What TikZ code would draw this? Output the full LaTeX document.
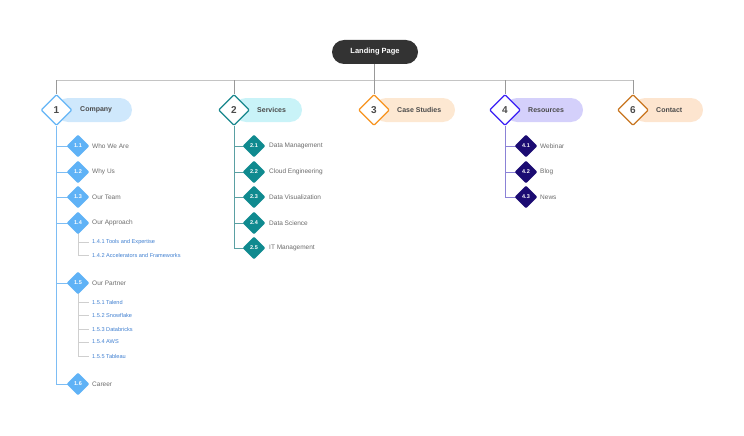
\documentclass[tikz,border=0pt]{standalone}
\usepackage{fontspec}
\setmainfont{Liberation Sans}
\usetikzlibrary{shapes.geometric}
\definecolor{cA}{HTML}{64B5F6}\definecolor{pA}{HTML}{CFE8FC}\definecolor{sA}{HTML}{5FB2F6}\definecolor{lA}{HTML}{7DBDF4}
\definecolor{cB}{HTML}{17868C}\definecolor{pB}{HTML}{C9F3F8}\definecolor{sB}{HTML}{0F8A8F}\definecolor{lB}{HTML}{5AA0A3}
\definecolor{cC}{HTML}{F7931E}\definecolor{pC}{HTML}{FDE8D2}
\definecolor{cD}{HTML}{3A1FF5}\definecolor{pD}{HTML}{D4D0FB}\definecolor{sD}{HTML}{1B0B72}\definecolor{lD}{HTML}{8B82D6}
\definecolor{cE}{HTML}{C8751F}\definecolor{pE}{HTML}{FDE5CF}
\definecolor{subtxt}{HTML}{6B6B6B}\definecolor{headtxt}{HTML}{4A4A4A}\definecolor{leaftxt}{HTML}{3F7FD0}
\definecolor{conn}{HTML}{C4C4C4}\definecolor{conndark}{HTML}{999999}\definecolor{leafline}{HTML}{CFCFCF}
\tikzset{
  bigd/.style={diamond, draw=#1, fill=white, line width=1.3pt, minimum width=31pt, minimum height=31pt, inner sep=0pt, rounded corners=1pt, font=\fontsize{10}{10}\selectfont\bfseries, text=headtxt},
  subd/.style={diamond, fill=#1, minimum width=23pt, minimum height=23pt, inner sep=0pt, rounded corners=1pt, font=\fontsize{5.5}{6}\selectfont\bfseries, text=white},
  pillbg/.style={fill=#1, rounded corners=12pt},
  head/.style={anchor=west, inner sep=0pt, font=\fontsize{7}{8}\selectfont\bfseries, text=headtxt},
  sub/.style={anchor=west, inner sep=0pt, font=\fontsize{6.5}{7}\selectfont, text=subtxt},
  leaf/.style={anchor=west, inner sep=0pt, font=\fontsize{5.6}{6}\selectfont, text=leaftxt},
  mainline/.style={draw=conn, line width=1pt},
  dropline/.style={draw=conndark, line width=0.8pt},
  branch/.style={draw=#1, line width=0.9pt},
  leafconn/.style={draw=leafline, line width=0.7pt},
}
\begin{document}
\begin{tikzpicture}[x=1pt,y=-1pt]
\useasboundingbox (0,0) rectangle (744,436);
% landing page
\node[fill=black!80, rounded corners=12pt, minimum width=86pt, minimum height=24pt, inner sep=0pt, text=white, font=\fontsize{7.5}{8}\selectfont\bfseries] (lp) at (375,52) {Landing Page};
% pills
\fill[pillbg=pA] (56,98) rectangle (132,122);
\fill[pillbg=pB] (234,98) rectangle (302,122);
\fill[pillbg=pC] (374,98) rectangle (455,122);
\fill[pillbg=pD] (505,98) rectangle (583,122);
\fill[pillbg=pE] (633,98) rectangle (703,122);
% main connectors
\coordinate (lpb) at (374,64);
\draw[mainline] (56,80) -- (633,80);
\foreach \x in {56,234,505,633} \draw[dropline] (\x,80) -- (\x,94);
\draw[dropline] (lpb) -- (374,94);
% branch lines
\draw[branch=lA] (56,126) -- (56,384);
\foreach \y in {146,172,197,223,283,384} \draw[branch=lA] (56,\y) -- (70,\y);
\draw[branch=lB] (234,126) -- (234,248);
\foreach \y in {146,172,197,223,248} \draw[branch=lB] (234,\y) -- (246,\y);
\draw[branch=lD] (505,126) -- (505,197);
\foreach \y in {146,172,197} \draw[branch=lD] (505,\y) -- (518,\y);
% leaf connectors
\draw[leafconn] (78,230) -- (78,255);
\foreach \y in {242,255} \draw[leafconn] (78,\y) -- (89,\y);
\draw[leafconn] (78,290) -- (78,356);
\foreach \y in {302,315,329,342,356} \draw[leafconn] (78,\y) -- (89,\y);
% big diamonds
\node[bigd=cA] (c1) at (56.5,110) {1};
\node[bigd=cB] (c2) at (234,110) {2};
\node[bigd=cC] (c3) at (374,110) {3};
\node[bigd=cD] (c4) at (505,110) {4};
\node[bigd=cE] (c6) at (633,110) {6};
\node[head] (h1) at (80,110) {Company};
\node[head] (h2) at (257,110) {Services};
\node[head] (h3) at (397,110) {Case Studies};
\node[head] (h4) at (528,110) {Resources};
\node[head] (h6) at (656,110) {Contact};
% company subs
\node[subd=sA] (s11) at (78,146) {1.1}; \node[sub] at (92,146) {Who We Are};
\node[subd=sA] (s12) at (78,172) {1.2}; \node[sub] at (92,172) {Why Us};
\node[subd=sA] (s13) at (78,197) {1.3}; \node[sub] at (92,197) {Our Team};
\node[subd=sA] (s14) at (78,223) {1.4}; \node[sub] at (92,223) {Our Approach};
\node[leaf] (t141) at (92,242) {1.4.1 Tools and Expertise};
\node[leaf] (t142) at (92,255) {1.4.2 Accelerators and Frameworks};
\node[subd=sA] (s15) at (78,283) {1.5}; \node[sub] at (92,283) {Our Partner};
\node[leaf] (t151) at (92,302) {1.5.1 Talend};
\node[leaf] (t152) at (92,315) {1.5.2 Snowflake};
\node[leaf] (t153) at (92,329) {1.5.3 Databricks};
\node[leaf] (t154) at (92,342) {1.5.4 AWS};
\node[leaf] (t155) at (92,356) {1.5.5 Tableau};
\node[subd=sA] (s16) at (78,384) {1.6}; \node[sub] at (92,384) {Career};
% services subs
\node[subd=sB] (s21) at (254,146) {2.1}; \node[sub] at (269,146) {Data Management};
\node[subd=sB] (s22) at (254,172) {2.2}; \node[sub] at (269,172) {Cloud Engineering};
\node[subd=sB] (s23) at (254,197) {2.3}; \node[sub] at (269,197) {Data Visualization};
\node[subd=sB] (s24) at (254,223) {2.4}; \node[sub] at (269,223) {Data Science};
\node[subd=sB] (s25) at (254,248) {2.5}; \node[sub] at (269,248) {IT Management};
% resources subs
\node[subd=sD] (s41) at (526,146) {4.1}; \node[sub] at (540,146) {Webinar};
\node[subd=sD] (s42) at (526,172) {4.2}; \node[sub] at (540,172) {Blog};
\node[subd=sD] (s43) at (526,197) {4.3}; \node[sub] at (540,197) {News};
\end{tikzpicture}
\end{document}
